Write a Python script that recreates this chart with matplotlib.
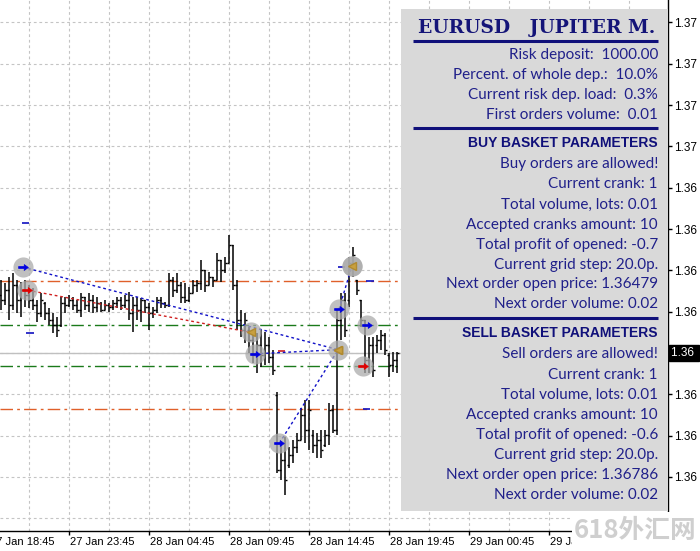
import numpy as np
import matplotlib.pyplot as plt
from matplotlib.path import Path
from matplotlib.patches import Rectangle
import matplotlib.transforms as mtransforms

# EURUSD M15 bars (bar index 0 = first visible bar)
opens = [1.36820, 1.36814, 1.36826, 1.36808, 1.36832, 1.36814, 1.36826, 1.36820, 1.36814, 1.36808,
         1.36798, 1.36811, 1.36798, 1.36790, 1.36784, 1.36784, 1.36811, 1.36808, 1.36814, 1.36808,
         1.36802, 1.36818, 1.36808, 1.36814, 1.36806, 1.36811, 1.36802, 1.36808, 1.36806, 1.36811,
         1.36814, 1.36808, 1.36814, 1.36798, 1.36808, 1.36802, 1.36814, 1.36806, 1.36798, 1.36802,
         1.36814, 1.36811, 1.36808, 1.36838, 1.36826, 1.36832, 1.36818, 1.36814, 1.36823, 1.36832,
         1.36835, 1.36850, 1.36832, 1.36842, 1.36838, 1.36863, 1.36850, 1.36859, 1.36881, 1.36832,
         1.36790, 1.36778, 1.36778, 1.36766, 1.36748, 1.36760, 1.36748, 1.36760, 1.36745, 1.36699,
         1.36608, 1.36621, 1.36614, 1.36627, 1.36636, 1.36645, 1.36675, 1.36657, 1.36651, 1.36639,
         1.36645, 1.36639, 1.36651, 1.36681, 1.36657, 1.36790, 1.36814, 1.36814, 1.36859, 1.36838,
         1.36814, 1.36790, 1.36742, 1.36760, 1.36760, 1.36766, 1.36772, 1.36748, 1.36735, 1.36742]
highs = [1.36838, 1.36835, 1.36842, 1.36847, 1.36838, 1.36836, 1.36838, 1.36832, 1.36829, 1.36814,
         1.36823, 1.36812, 1.36804, 1.36798, 1.36794, 1.36818, 1.36818, 1.36820, 1.36818, 1.36814,
         1.36823, 1.36818, 1.36823, 1.36820, 1.36818, 1.36812, 1.36814, 1.36811, 1.36814, 1.36818,
         1.36818, 1.36820, 1.36824, 1.36818, 1.36818, 1.36817, 1.36814, 1.36811, 1.36806, 1.36818,
         1.36818, 1.36812, 1.36847, 1.36842, 1.36847, 1.36836, 1.36835, 1.36830, 1.36838, 1.36838,
         1.36863, 1.36850, 1.36848, 1.36842, 1.36871, 1.36863, 1.36866, 1.36893, 1.36881, 1.36838,
         1.36802, 1.36798, 1.36781, 1.36778, 1.36774, 1.36778, 1.36775, 1.36769, 1.36754, 1.36703,
         1.36641, 1.36648, 1.36636, 1.36645, 1.36653, 1.36683, 1.36693, 1.36693, 1.36657, 1.36653,
         1.36657, 1.36657, 1.36689, 1.36687, 1.36802, 1.36823, 1.36823, 1.36866, 1.36878, 1.36838,
         1.36814, 1.36790, 1.36769, 1.36769, 1.36772, 1.36778, 1.36774, 1.36750, 1.36751, 1.36751]
lows = [1.36802, 1.36808, 1.36790, 1.36802, 1.36798, 1.36794, 1.36806, 1.36804, 1.36802, 1.36788,
        1.36794, 1.36790, 1.36784, 1.36774, 1.36769, 1.36781, 1.36798, 1.36806, 1.36802, 1.36798,
        1.36794, 1.36802, 1.36800, 1.36798, 1.36800, 1.36800, 1.36802, 1.36800, 1.36802, 1.36804,
        1.36802, 1.36804, 1.36790, 1.36775, 1.36790, 1.36788, 1.36798, 1.36778, 1.36792, 1.36798,
        1.36804, 1.36804, 1.36806, 1.36818, 1.36823, 1.36811, 1.36811, 1.36812, 1.36823, 1.36824,
        1.36826, 1.36824, 1.36832, 1.36830, 1.36838, 1.36836, 1.36847, 1.36859, 1.36826, 1.36778,
        1.36769, 1.36762, 1.36750, 1.36738, 1.36726, 1.36733, 1.36735, 1.36738, 1.36723, 1.36605,
        1.36596, 1.36578, 1.36611, 1.36617, 1.36629, 1.36645, 1.36641, 1.36633, 1.36629, 1.36623,
        1.36623, 1.36636, 1.36639, 1.36653, 1.36651, 1.36766, 1.36769, 1.36806, 1.36842, 1.36820,
        1.36781, 1.36726, 1.36726, 1.36721, 1.36750, 1.36754, 1.36748, 1.36721, 1.36727, 1.36726]
closes = [1.36814, 1.36826, 1.36808, 1.36832, 1.36814, 1.36826, 1.36820, 1.36814, 1.36808, 1.36798,
          1.36814, 1.36798, 1.36790, 1.36784, 1.36778, 1.36811, 1.36808, 1.36814, 1.36808, 1.36802,
          1.36818, 1.36808, 1.36814, 1.36806, 1.36811, 1.36802, 1.36808, 1.36806, 1.36811, 1.36814,
          1.36808, 1.36814, 1.36798, 1.36808, 1.36802, 1.36814, 1.36806, 1.36798, 1.36802, 1.36814,
          1.36811, 1.36808, 1.36838, 1.36826, 1.36832, 1.36818, 1.36814, 1.36823, 1.36832, 1.36835,
          1.36850, 1.36832, 1.36842, 1.36838, 1.36863, 1.36850, 1.36859, 1.36881, 1.36832, 1.36790,
          1.36778, 1.36790, 1.36766, 1.36748, 1.36760, 1.36748, 1.36760, 1.36745, 1.36729, 1.36608,
          1.36621, 1.36596, 1.36627, 1.36636, 1.36645, 1.36675, 1.36657, 1.36681, 1.36639, 1.36645,
          1.36633, 1.36651, 1.36681, 1.36657, 1.36790, 1.36814, 1.36778, 1.36859, 1.36869, 1.36826,
          1.36790, 1.36742, 1.36760, 1.36729, 1.36766, 1.36772, 1.36754, 1.36735, 1.36742, 1.36750]

bid = 1.36750

# axis ticks
time_pos = [-3, 17, 37, 57, 77, 97, 117, 137]
time_labels = ['27 Jan 18:45', '27 Jan 23:45', '28 Jan 04:45', '28 Jan 09:45',
               '28 Jan 14:45', '28 Jan 19:45', '29 Jan 00:45', '29 Jan 05:45']
price_ticks = [1.3655, 1.3660, 1.3665, 1.3670, 1.3675, 1.3680, 1.3685,
               1.3690, 1.3695, 1.3700, 1.3705, 1.3710, 1.3715]
price_labels = ['', '1.36', '1.36', '1.36', '', '1.36', '1.36',
                '1.36', '1.36', '1.37', '1.37', '1.37', '1.37']

# orders: buy / sell opens and closes (bar index, price)
buy_open_i = [5.4, 63.5, 69.6, 84.5, 91.4]
buy_open_p = [1.36854, 1.36749, 1.36641, 1.36803, 1.36784]
buy_close_i = [84.3, 84.3, 84.3, 87.7]
buy_close_p = [1.36754, 1.36754, 1.36754, 1.36855]
sell_open_i = [6.6, 90.4]
sell_open_p = [1.36826, 1.36734]
sell_close_i = [62.4]
sell_close_p = [1.36775]

# level lines
orange_levels = [1.36837, 1.36682]
green_levels = [1.36784, 1.36734]
# short stop / target marks
mark_i = [6.1, 7.25, 70.1, 85.1, 92.25, 91.4]
mark_p = [1.36907, 1.36774, 1.36752, 1.36854, 1.36837, 1.36682]
mark_c = ['#1010C0', '#1010C0', '#D02020', '#1010C0', '#1010C0', '#1010C0']

panel_lines = [
    ('Risk deposit:  1000.00', 55, 'n'),
    ('Percent. of whole dep.:  10.0%', 75, 'n'),
    ('Current risk dep. load:  0.3%', 95, 'n'),
    ('First orders volume:  0.01', 115, 'n'),
    ('BUY BASKET PARAMETERS', 143, 'b'),
    ('Buy orders are allowed!', 164, 'n'),
    ('Current crank: 1', 184, 'n'),
    ('Total volume, lots: 0.01', 205, 'n'),
    ('Accepted cranks amount: 10', 225, 'n'),
    ('Total profit of opened: -0.7', 245, 'n'),
    ('Current grid step: 20.0p.', 265, 'n'),
    ('Next order open price: 1.36479', 284, 'n'),
    ('Next order volume: 0.02', 304, 'n'),
    ('SELL BASKET PARAMETERS', 333, 'b'),
    ('Sell orders are allowed!', 354, 'n'),
    ('Current crank: 1', 375, 'n'),
    ('Total volume, lots: 0.01', 395, 'n'),
    ('Accepted cranks amount: 10', 415, 'n'),
    ('Total profit of opened: -0.6', 435, 'n'),
    ('Current grid step: 20.0p.', 455, 'n'),
    ('Next order open price: 1.36786', 475, 'n'),
    ('Next order volume: 0.02', 495, 'n'),
]

W, H = 700, 551
fig = plt.figure(figsize=(W / 100, H / 100), dpi=100)
fig.patch.set_facecolor('white')

ax = fig.add_axes([0, 20 / H, 668 / W, 531 / H])
ax.set_xlim(-0.25, 166.75)
ax.set_ylim(1.3653462, 1.3717713)
ax.set_facecolor('white')

n = len(opens)
xs = np.arange(n)

# grid
grid_kw = dict(color='#c4c4c4', lw=0.8, linestyle=(0, (2.5, 2.5)), zorder=0)
for p in price_ticks:
    ax.axhline(p, **grid_kw)
for gx in np.arange(7, 170, 10):
    ax.axvline(gx, **grid_kw)

# bid line and level lines
ax.axhline(bid, color='#c0c0c0', lw=1.0, zorder=1)
for p in orange_levels:
    ax.axhline(p, color='#e0602a', lw=1.0, linestyle=(0, (9, 3, 2, 3)), zorder=1)
for p in green_levels:
    ax.axhline(p, color='#1a7a1a', lw=1.0, linestyle=(0, (9, 3, 2, 3)), zorder=1)

# OHLC bars
ax.vlines(xs, lows, highs, color='black', lw=1.1, zorder=3)
ax.hlines(opens, xs - 0.45, xs, color='black', lw=1.0, zorder=3)
ax.hlines(closes, xs, xs + 0.45, color='black', lw=1.0, zorder=3)

# stop / target marks
for i, p, c in zip(mark_i, mark_p, mark_c):
    ax.hlines(p, i - 0.9, i + 0.9, color=c, lw=1.2, zorder=4)

# trade connection lines
for k in range(len(buy_close_i)):
    ax.plot([buy_open_i[k], buy_close_i[k]], [buy_open_p[k], buy_close_p[k]],
            color='#1010c8', lw=1.0, linestyle=(0, (2, 2)), zorder=4)
for k in range(len(sell_close_i)):
    ax.plot([sell_open_i[k], sell_close_i[k]], [sell_open_p[k], sell_close_p[k]],
            color='#d02020', lw=1.0, linestyle=(0, (2, 2)), zorder=4)

# gray halos
all_i = buy_open_i + sell_open_i + buy_close_i[::3] + [buy_close_i[3]] + sell_close_i
all_p = buy_open_p + sell_open_p + buy_close_p[::3] + [buy_close_p[3]] + sell_close_p
ax.plot(all_i, all_p, 'o', ms=14.5, color='#ababab', alpha=0.75, mec='none', zorder=5)

arrow = Path([(-1, -0.2), (0.15, -0.2), (0.15, -0.6), (1, 0), (0.15, 0.6), (0.15, 0.2),
              (-1, 0.2), (-1, -0.2)],
             [Path.MOVETO] + [Path.LINETO] * 6 + [Path.CLOSEPOLY])
ax.plot(buy_open_i, buy_open_p, linestyle='none', marker=arrow, ms=7,
        color='#0000e0', mec='#0000e0', mew=0.5, zorder=6)
ax.plot(sell_open_i, sell_open_p, linestyle='none', marker=arrow, ms=7,
        color='#e00000', mec='#e00000', mew=0.5, zorder=6)
ax.plot(buy_close_i + sell_close_i, buy_close_p + sell_close_p, linestyle='none',
        marker='<', ms=6, color='#c8a040', mec='#b08a30', zorder=6)

# axes styling
for s in ['top', 'left']:
    ax.spines[s].set_visible(False)
ax.spines['right'].set_linewidth(1.0)
ax.spines['bottom'].set_linewidth(1.0)
ax.yaxis.tick_right()
ax.set_yticks(price_ticks)
ax.set_yticklabels(price_labels, fontsize=8.5, family='Liberation Sans')
ax.tick_params(axis='y', direction='out', length=3, pad=1.5, width=1)
ax.set_xticks([t for t in time_pos if t > 0])
ax.set_xticklabels([])
ax.tick_params(axis='x', direction='out', length=3, width=1)
tr = mtransforms.blended_transform_factory(ax.transData, ax.transAxes)
for t, lab in zip(time_pos, time_labels):
    t_obj = ax.text(t + 0.15, -0.0105, lab, transform=tr, ha='left', va='top',
                    fontsize=8, family='Liberation Sans', clip_on=False)
    if t == time_pos[-1]:
        # the watermark box hides the right part of the last label
        t_obj.set_clip_on(True)
        t_obj.set_clip_path(Rectangle((0, 0), 572, H, transform=None))

# bid label
ytr = mtransforms.blended_transform_factory(ax.transAxes, ax.transData)
ax.text(1.004, bid, '1.36 ', transform=ytr, ha='left', va='center', color='white',
        fontsize=8.5, family='Liberation Sans',
        bbox=dict(boxstyle='square,pad=0.15', fc='black', ec='black'), clip_on=False, zorder=10)

# overlay in pixel coordinates for the info panel
ov = fig.add_axes([0, 0, 1, 1])
ov.set_xlim(0, W)
ov.set_ylim(H, 0)
ov.axis('off')
ov.patch.set_alpha(0)

ov.add_patch(Rectangle((401, 9), 267, 502, fc='#d9d9d9', ec='none'))
ov.text(537, 28, 'EURUSD   JUPITER M.', ha='center', va='center', color='#141478',
        fontsize=13.5, family='DejaVu Serif', weight='bold')
for yl in [41, 128, 318]:
    ov.plot([413, 658], [yl, yl], color='#10107a', lw=2.2, solid_capstyle='butt')
for txt, yy, kind in panel_lines:
    if kind == 'b':
        ov.text(658, yy, txt, ha='right', va='center', color='#10107a', fontsize=10,
                family='Liberation Sans', weight='bold')
    else:
        ov.text(658, yy, txt, ha='right', va='center', color='#20208a', fontsize=11,
                family='Lato')

# watermark box
ov.add_patch(Rectangle((572, 512), 128, 39, fc='white', ec='none'))
ov.text(635, 531, '618外汇网', ha='center', va='center', color='#cfcfcf', fontsize=18.5,
        family=['Noto Sans CJK SC', 'DejaVu Sans'], weight='bold')

fig.savefig('out.png', dpi=100)
